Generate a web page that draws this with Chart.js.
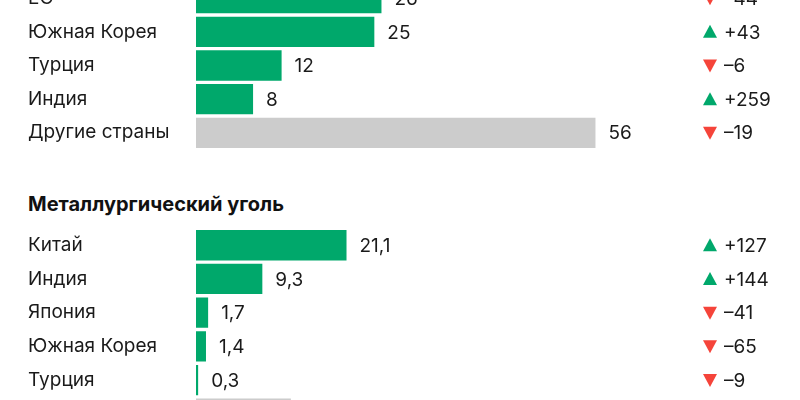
<!DOCTYPE html>
<html lang="ru">
<head>
<meta charset="utf-8">
<script src="https://cdn.jsdelivr.net/npm/chart.js@4"></script>
<style>
  html, body { margin: 0; padding: 0; background: #fff; }
  body { width: 800px; height: 400px; position: relative; overflow: hidden; font-family: Inter, sans-serif; }
  .box { position: absolute; left: 0; width: 800px; }
  #thermalBox { top: -30px; height: 191px; }
  #metBox { top: 217px; height: 225px; }
  #metTitle { position: absolute; left: 28px; top: 192px; font: bold 20px Inter, sans-serif; color: #111; }
</style>
</head>
<body>
<div class="box" id="thermalBox"><canvas id="thermal"></canvas></div>
<div id="metTitle">Металлургический уголь</div>
<div class="box" id="metBox"><canvas id="met"></canvas></div>
<script>
const thermalLabels = ["ЕС", "Южная Корея", "Турция", "Индия", "Другие страны"];
const thermalValues = [26, 25, 12, 8, 56];
const thermalChange = [-44, 43, -6, 259, -19];

const metLabels = ["Китай", "Индия", "Япония", "Южная Корея", "Турция", "Другие страны"];
const metValues = [21.1, 9.3, 1.7, 1.4, 0.3, 13.3];
const metChange = [127, 144, -41, -65, -9, null];

const axisMax = 60;
const green = "#00a86b";
const grey = "#cccccc";
const red = "#f5443a";
const textColor = "#1a1a1a";
const font = "Inter, sans-serif";

const fmt = v => String(v).replace(".", ",");

// value labels after bars + up/down column on the right
const annotate = {
  id: "annotate",
  afterDatasetsDraw(chart, args, opts) {
    const ctx = chart.ctx;
    const area = chart.chartArea;
    const meta = chart.getDatasetMeta(0);
    ctx.save();
    ctx.font = "19px " + font;
    ctx.textBaseline = "middle";
    meta.data.forEach((bar, i) => {
      const v = chart.data.datasets[0].data[i];
      ctx.fillStyle = textColor;
      ctx.textAlign = "left";
      ctx.fillText(fmt(v), bar.x + 13, bar.y + 1);
      const ch = opts.change[i];
      if (ch === null || ch === undefined) return;
      const tx = area.right + 86;
      const up = ch > 0;
      ctx.fillStyle = up ? green : red;
      ctx.beginPath();
      if (up) {
        ctx.moveTo(tx - 7, bar.y + 6);
        ctx.lineTo(tx + 7, bar.y + 6);
        ctx.lineTo(tx, bar.y - 7);
      } else {
        ctx.moveTo(tx - 7, bar.y - 6);
        ctx.lineTo(tx + 7, bar.y - 6);
        ctx.lineTo(tx, bar.y + 7);
      }
      ctx.closePath();
      ctx.fill();
      ctx.fillStyle = textColor;
      ctx.fillText((up ? "+" : "\u2013") + Math.abs(ch), tx + 14, bar.y + 1);
    });
    ctx.restore();
  }
};

function makeChart(id, labels, values, change) {
  return new Chart(document.getElementById(id), {
    type: "bar",
    data: {
      labels: labels,
      datasets: [{
        data: values,
        backgroundColor: labels.map(l => l === "Другие страны" ? grey : green),
        barPercentage: 0.9,
        categoryPercentage: 1,
        borderWidth: 0
      }]
    },
    options: {
      indexAxis: "y",
      responsive: true,
      maintainAspectRatio: false,
      animation: false,
      layout: { padding: { left: 28, right: 176, top: 0, bottom: 0 } },
      plugins: {
        legend: { display: false },
        tooltip: { enabled: false },
        annotate: { change: change }
      },
      scales: {
        x: { display: false, min: 0, max: axisMax },
        y: {
          grid: { display: false },
          border: { display: false },
          afterFit: s => { s.width = 168; },
          ticks: {
            crossAlign: "far",
            padding: 0,
            color: textColor,
            font: { family: font, size: 19, lineHeight: 1.2 }
          }
        }
      }
    },
    plugins: [annotate]
  });
}

makeChart("thermal", thermalLabels, thermalValues, thermalChange);
makeChart("met", metLabels, metValues, metChange);
</script>
</body>
</html>
